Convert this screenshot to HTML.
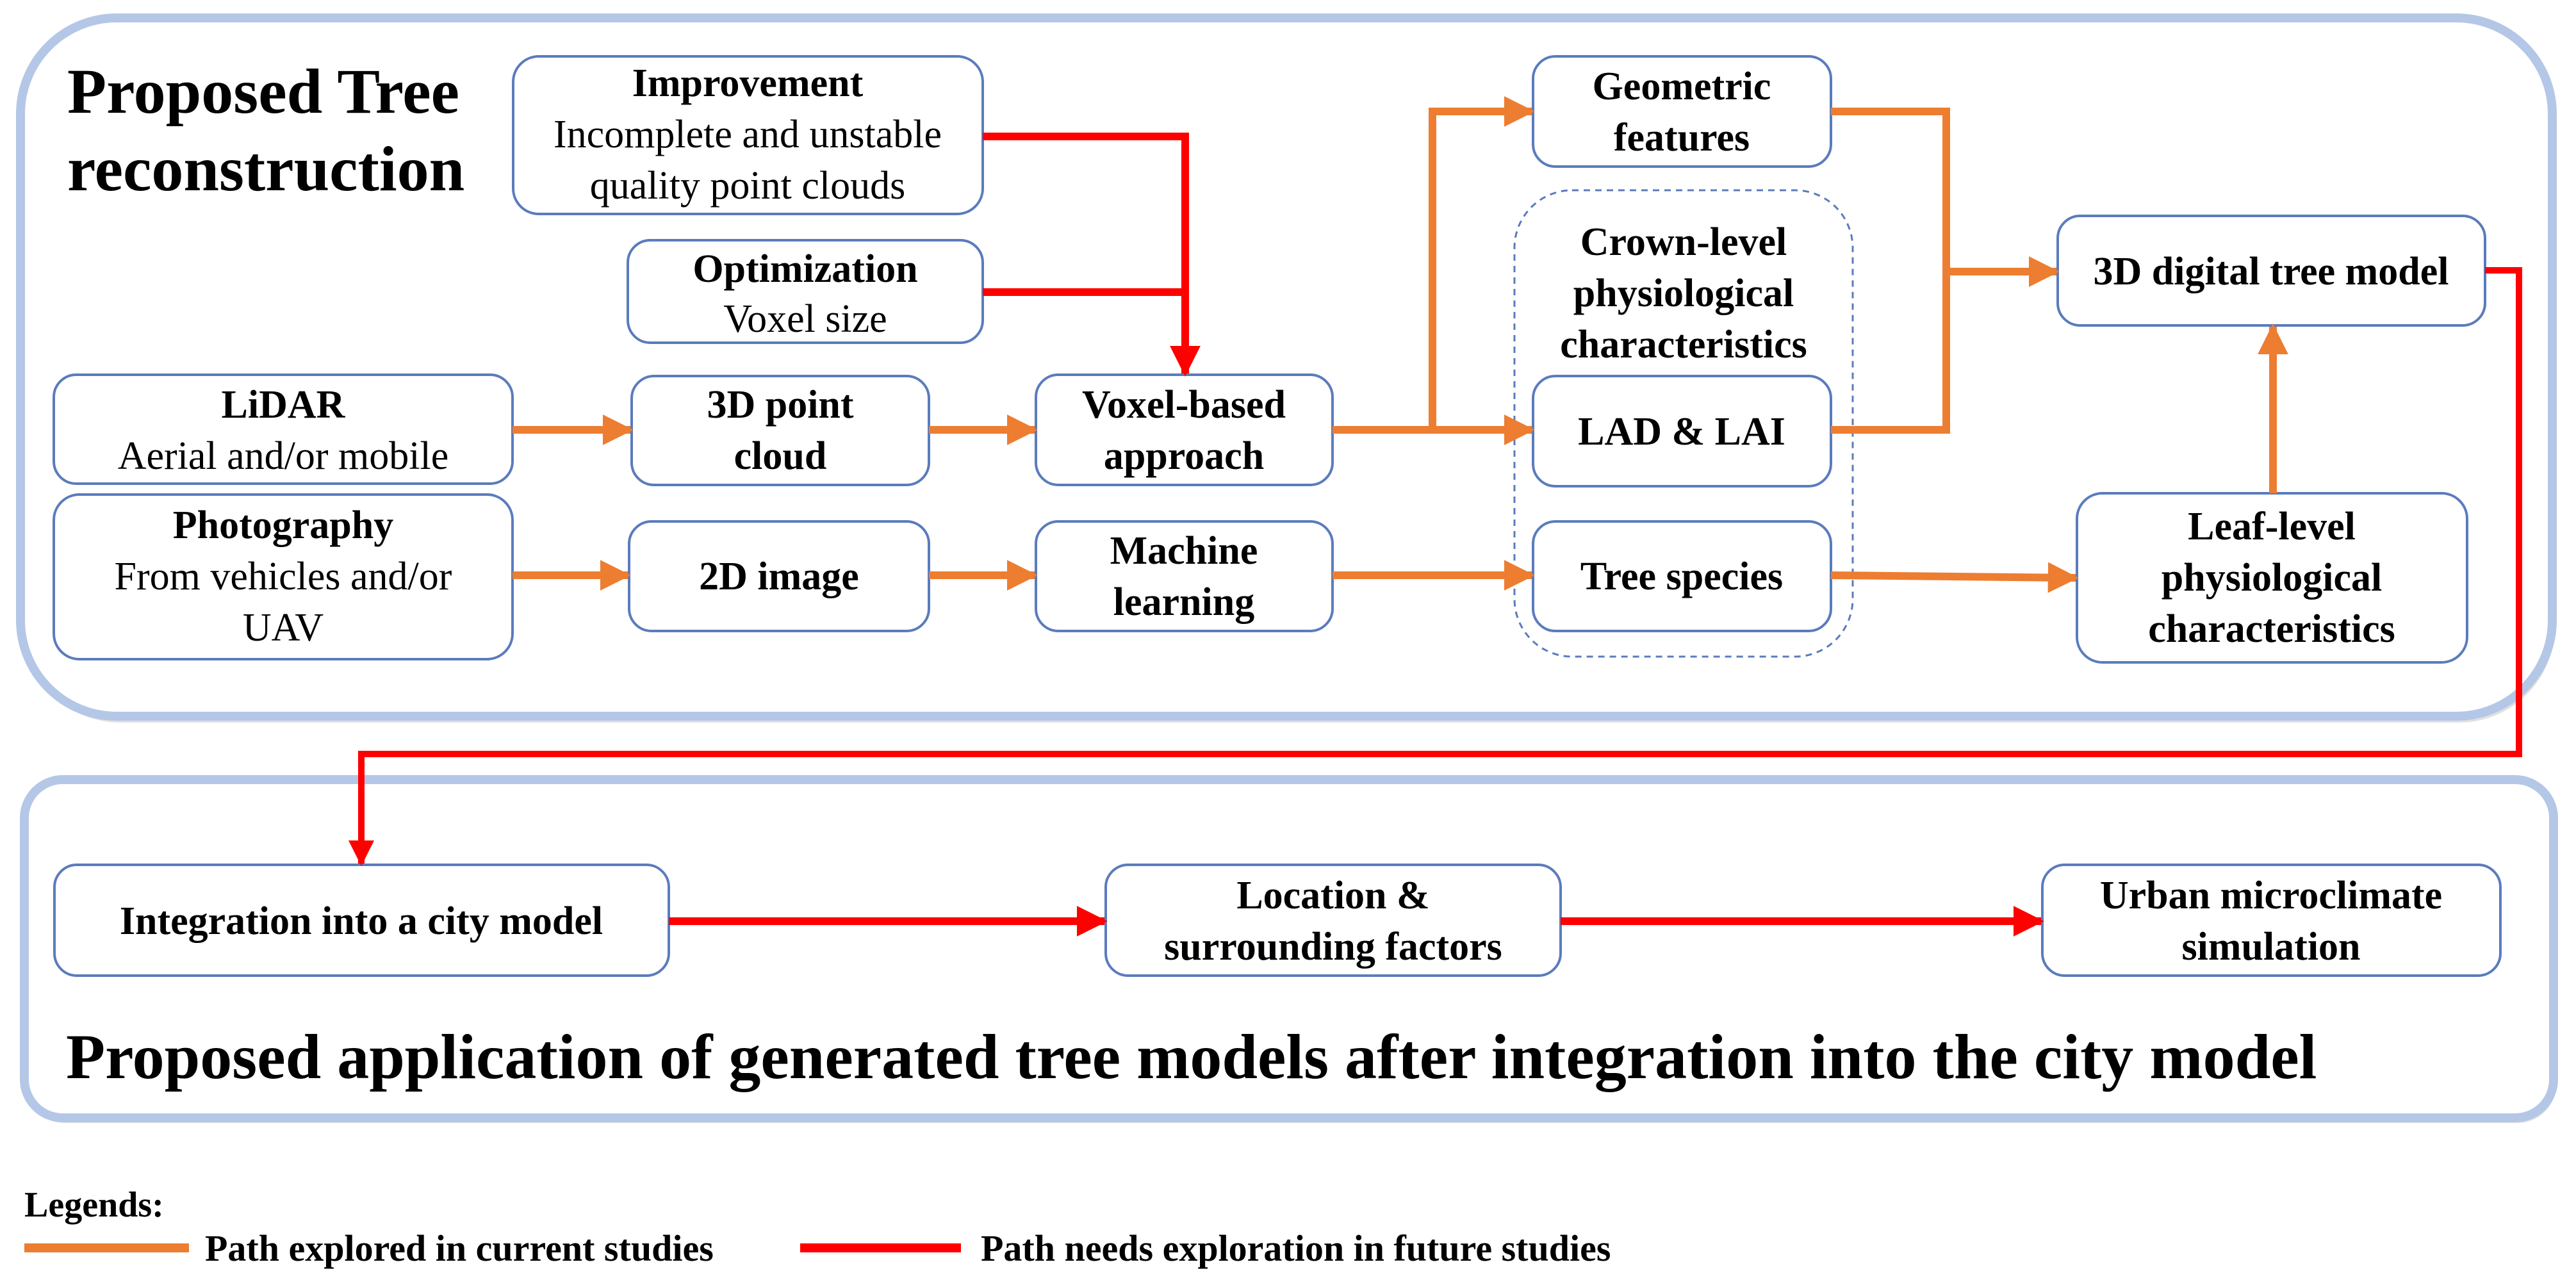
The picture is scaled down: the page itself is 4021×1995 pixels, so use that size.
<!DOCTYPE html>
<html><head><meta charset="utf-8"><style>
html,body{margin:0;padding:0;background:#fff;}
svg{display:block;}
text{font-family:"Liberation Serif",serif;fill:#000;}
.b{font-weight:bold;}
</style></head><body>
<svg width="4021" height="1995" viewBox="0 0 4021 1995" xmlns="http://www.w3.org/2000/svg">
<defs>
<marker id="ao" markerWidth="4" markerHeight="4" refX="3.6" refY="2" orient="auto" markerUnits="strokeWidth"><path d="M0,0 L4,2 L0,4 Z" fill="#ed7d31"/></marker>
<marker id="ar" markerWidth="4" markerHeight="4" refX="3.6" refY="2" orient="auto" markerUnits="strokeWidth"><path d="M0,0 L4,2 L0,4 Z" fill="#ff0000"/></marker>
</defs>
<rect x="38" y="36" width="3950" height="1092" rx="150" fill="#000" opacity="0.12"/>
<rect x="32" y="28" width="3952" height="1090" rx="150" fill="#fff" stroke="#b4c7e7" stroke-width="14"/>
<rect x="42" y="1225" width="3948" height="528" rx="60" fill="#000" opacity="0.12"/>
<rect x="38" y="1217" width="3948" height="528" rx="60" fill="#fff" stroke="#b4c7e7" stroke-width="14"/>

<text x="105" y="176" font-size="100" class="b">Proposed Tree</text>
<text x="105" y="297" font-size="100" class="b">reconstruction</text>

<g fill="#fff" stroke="#5b7bbd" stroke-width="4">
<rect x="801" y="88" width="733" height="246" rx="40"/>
<rect x="980" y="375" width="554" height="160" rx="35"/>
<rect x="84" y="585" width="716" height="170" rx="35"/>
<rect x="986" y="587" width="464" height="170" rx="35"/>
<rect x="1617" y="585" width="463" height="172" rx="35"/>
<rect x="84" y="772" width="716" height="257" rx="40"/>
<rect x="982" y="814" width="468" height="171" rx="35"/>
<rect x="1617" y="814" width="463" height="171" rx="35"/>
<rect x="2393" y="88" width="465" height="172" rx="35"/>
<rect x="2364" y="297" width="528" height="728" rx="90" stroke-dasharray="10,8" stroke-width="3"/>
<rect x="2393" y="587" width="465" height="172" rx="35"/>
<rect x="2393" y="814" width="465" height="171" rx="35"/>
<rect x="3212" y="337" width="667" height="171" rx="35"/>
<rect x="3242" y="770" width="609" height="264" rx="40"/>
<rect x="85" y="1350" width="959" height="173" rx="35"/>
<rect x="1726" y="1350" width="710" height="173" rx="35"/>
<rect x="3188" y="1350" width="715" height="173" rx="35"/>
</g>

<g font-size="62" text-anchor="middle">
<text x="1167" y="150" class="b">Improvement</text>
<text x="1167" y="230">Incomplete and unstable</text>
<text x="1167" y="310">quality point clouds</text>
<text x="1257" y="440" class="b">Optimization</text>
<text x="1257" y="518">Voxel size</text>
<text x="442" y="652" class="b">LiDAR</text>
<text x="442" y="732">Aerial and/or mobile</text>
<text x="1218" y="652" class="b">3D point</text>
<text x="1218" y="732" class="b">cloud</text>
<text x="1848" y="652" class="b">Voxel-based</text>
<text x="1848" y="732" class="b">approach</text>
<text x="442" y="840" class="b">Photography</text>
<text x="442" y="920">From vehicles and/or</text>
<text x="442" y="1000">UAV</text>
<text x="1216" y="920" class="b">2D image</text>
<text x="1848" y="880" class="b">Machine</text>
<text x="1848" y="960" class="b">learning</text>
<text x="2625" y="155" class="b">Geometric</text>
<text x="2625" y="235" class="b">features</text>
<text x="2628" y="398" class="b">Crown-level</text>
<text x="2628" y="478" class="b">physiological</text>
<text x="2628" y="558" class="b">characteristics</text>
<text x="2625" y="694" class="b">LAD &amp; LAI</text>
<text x="2625" y="920" class="b">Tree species</text>
<text x="3545" y="444" class="b">3D digital tree model</text>
<text x="3546" y="842" class="b">Leaf-level</text>
<text x="3546" y="922" class="b">physiological</text>
<text x="3546" y="1002" class="b">characteristics</text>
<text x="564" y="1458" class="b">Integration into a city model</text>
<text x="2081" y="1418" class="b">Location &amp;</text>
<text x="2081" y="1498" class="b">surrounding factors</text>
<text x="3545" y="1418" class="b">Urban microclimate</text>
<text x="3545" y="1498" class="b">simulation</text>
</g>

<text x="103" y="1683" font-size="100" class="b">Proposed application of generated tree models after integration into the city model</text>

<g stroke="#ed7d31" stroke-width="12" fill="none">
<line x1="800" y1="671" x2="984" y2="671" marker-end="url(#ao)"/>
<line x1="1450" y1="671" x2="1615" y2="671" marker-end="url(#ao)"/>
<line x1="800" y1="898" x2="980" y2="898" marker-end="url(#ao)"/>
<line x1="1450" y1="898" x2="1615" y2="898" marker-end="url(#ao)"/>
<line x1="2080" y1="671" x2="2391" y2="671" marker-end="url(#ao)"/>
<polyline points="2236,671 2236,174 2391,174" marker-end="url(#ao)"/>
<polyline points="2858,174 3038,174 3038,671 2858,671"/>
<line x1="3038" y1="424" x2="3210" y2="424" marker-end="url(#ao)"/>
<line x1="2080" y1="898" x2="2391" y2="898" marker-end="url(#ao)"/>
<line x1="2858" y1="898" x2="3240" y2="902" marker-end="url(#ao)"/>
<line x1="3548" y1="770" x2="3548" y2="510" marker-end="url(#ao)"/>
</g>
<g stroke="#ff0000" stroke-width="12" fill="none">
<polyline points="1534,213 1850,213 1850,583" marker-end="url(#ar)"/>
<line x1="1534" y1="456" x2="1850" y2="456"/>
<polyline points="3879,422 3932,422 3932,1177 564,1177 564,1348" stroke-width="10" marker-end="url(#ar)"/>
<line x1="1044" y1="1438" x2="1724" y2="1438" marker-end="url(#ar)"/>
<line x1="2436" y1="1438" x2="3186" y2="1438" marker-end="url(#ar)"/>
</g>

<text x="38" y="1899" font-size="56" class="b">Legends:</text>
<line x1="38" y1="1948" x2="295" y2="1948" stroke="#ed7d31" stroke-width="14"/>
<text x="320" y="1968" font-size="58" class="b">Path explored in current studies</text>
<line x1="1249" y1="1948" x2="1500" y2="1948" stroke="#ff0000" stroke-width="14"/>
<text x="1531" y="1968" font-size="58" class="b">Path needs exploration in future studies</text>
</svg>
</body></html>
